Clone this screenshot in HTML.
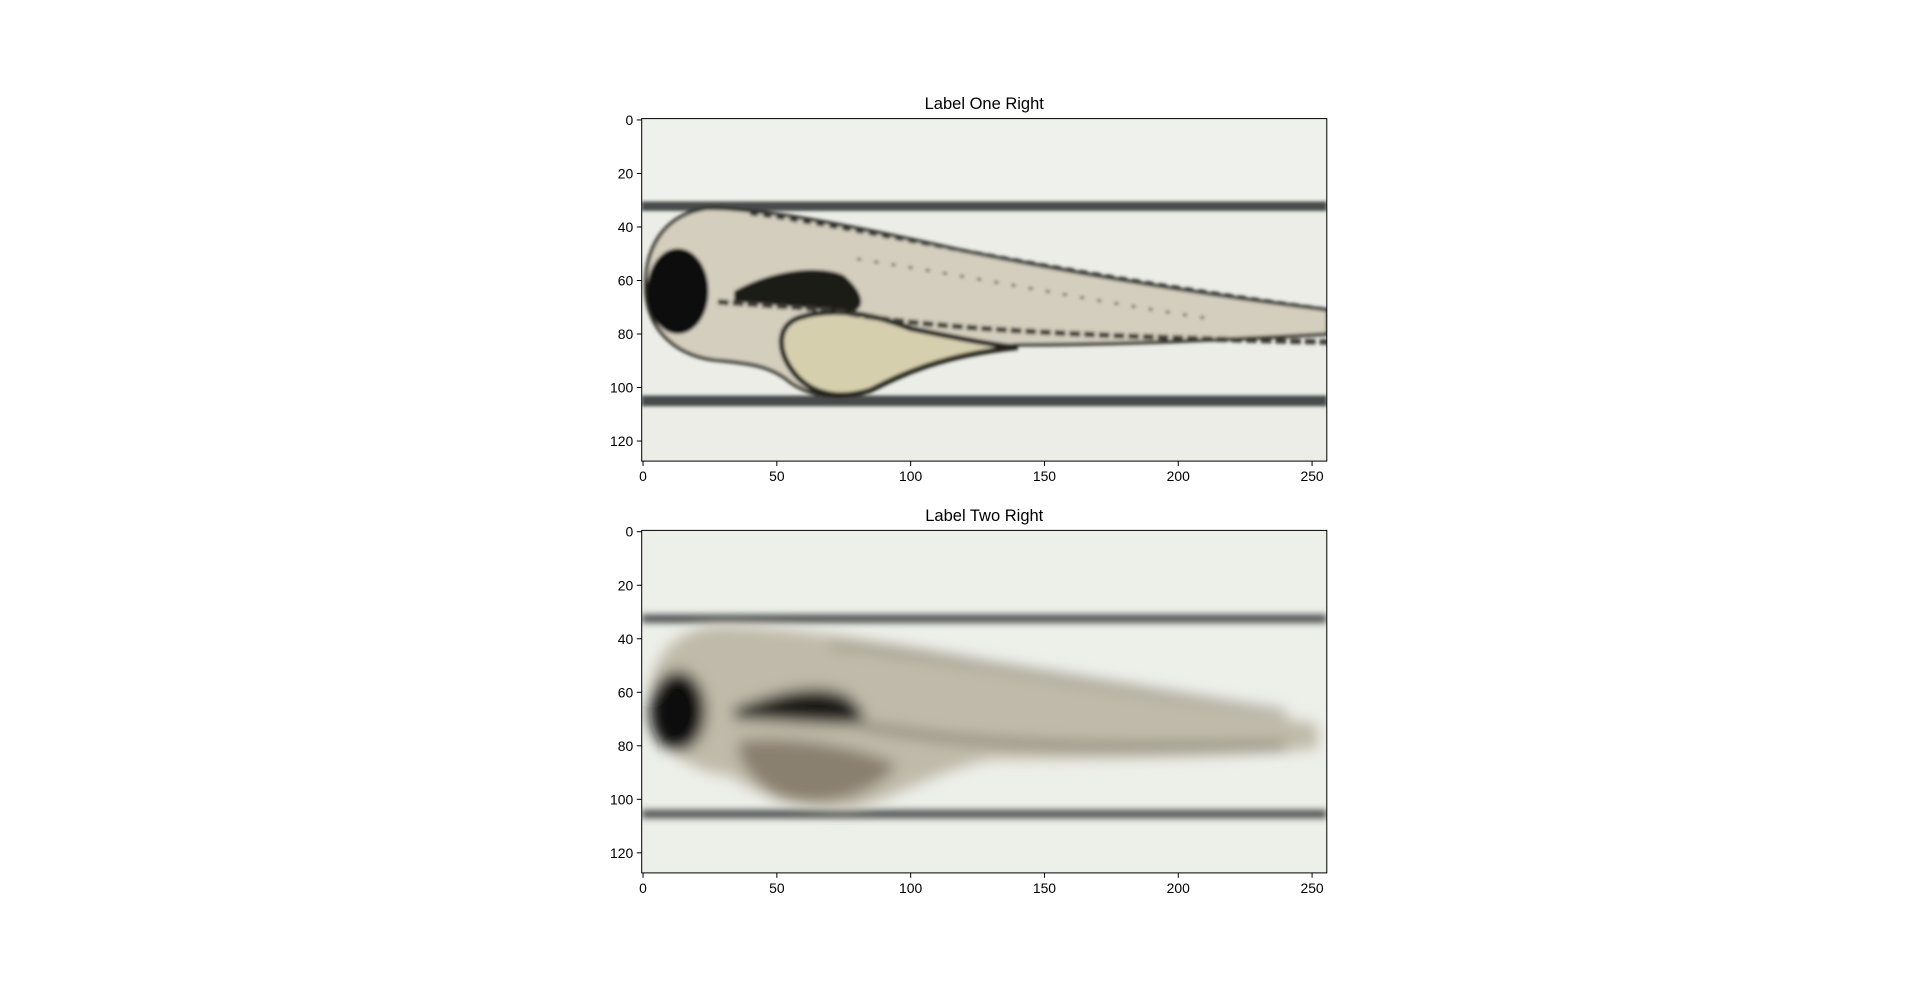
<!DOCTYPE html>
<html><head><meta charset="utf-8"><style>
html,body{margin:0;padding:0;background:#fff;width:1920px;height:981px;overflow:hidden}
svg{position:absolute;left:0;top:0}
text{font-family:"Liberation Sans","DejaVu Sans",sans-serif;fill:#000}
</style></head><body>
<svg id="fig" width="1920" height="981">
<defs>
<filter id="b1" x="-10%" y="-10%" width="120%" height="120%"><feGaussianBlur stdDeviation="0.6"/></filter>
<filter id="b2" x="-10%" y="-10%" width="120%" height="120%"><feGaussianBlur stdDeviation="1.3"/></filter>
<filter id="b3" x="-10%" y="-10%" width="120%" height="120%"><feGaussianBlur stdDeviation="2.6"/></filter>
<clipPath id="c1"><rect x="-0.5" y="-0.5" width="256" height="128"/></clipPath>
</defs>
</svg>
<script>
const xTicks=[0,50,100,150,200,250];
const yTicks=[0,20,40,60,80,100,120];
const titles=["Label One Right","Label Two Right"];
const axTops=[118.6,530.4];
const axLeft=641.7, axW=685.1, axH=342.5;
const NS="http://www.w3.org/2000/svg";
const fig=document.getElementById('fig');
function mk(tag,attrs,parent){const e=document.createElementNS(NS,tag);for(const k in attrs)e.setAttribute(k,attrs[k]);parent.appendChild(e);return e;}
const sx=axW/256, sy=axH/128;
function fishSharp(g){
  g.innerHTML=`
  <rect x="-0.5" y="-0.5" width="256" height="128" fill="#ebede6"/>
  <rect x="-0.5" y="-0.5" width="256" height="30" fill="#eff1ec"/>
  <g filter="url(#b1)">
  <rect x="-0.5" y="30.5" width="256" height="3.5" fill="#4a4c4c"/>
  <rect x="-0.5" y="103" width="256" height="4" fill="#4a4c4c"/>
  <path d="M1,62 C1,45 10,35 24,33 C45,33 80,40 120,49 C170,59 215,66 256,71 L256,80 C220,82 180,84 140,84 C120,86 100,91 90,98 C80,105 65,105 55,98 C48,92 40,91 30,90 C12,89 1,78 1,62 Z" fill="#d3cebd" stroke="#2f2f28" stroke-width="1.3"/>
  <path d="M58,74 C70,70 85,72 100,78 C120,82 130,84 140,85 C110,88 95,96 85,101 C72,105 62,102 56,94 C50,86 50,77 58,74 Z" fill="#d6cfae" stroke="#22221c" stroke-width="2"/>
  <path d="M34,64 C48,56 66,54 75,58 C82,64 84,70 78,72 C66,71 50,69 34,68 Z" fill="#1c1c18"/>
  <path d="M28,68 L70,71 C90,75 120,80 256,83" stroke="#3a3930" stroke-width="2" fill="none" stroke-dasharray="4 1.5"/>
  <path d="M40,35 C80,40 140,55 256,71" stroke="#333" stroke-width="1.4" fill="none" stroke-dasharray="3 2"/>
  <path d="M80,52 C120,58 170,68 210,74" stroke="#555" stroke-width="1" fill="none" stroke-dasharray="1.5 5"/>
  <ellipse cx="13" cy="64" rx="11.5" ry="16" fill="#0e0e0e"/>
  </g>`;
}
function fishBlur(g){
  g.innerHTML=`
  <rect x="-0.5" y="-0.5" width="256" height="128" fill="#edefe9"/>
  <g filter="url(#b2)">
  <rect x="-0.5" y="31" width="256" height="3" fill="#464a48"/>
  <rect x="-0.5" y="104" width="256" height="3" fill="#464a48"/>
  </g>
  <g filter="url(#b3)">
  <path d="M3,62 C3,45 14,36 28,35 C50,35 90,41 130,49 C175,59 220,66 252,72 L252,81 C215,84 170,85 130,85 C110,89 95,99 80,103 C62,105 45,99 32,91 C14,89 3,78 3,62 Z" fill="#bfbaa9"/>
  <path d="M36,78 C55,76 80,80 95,87 C85,100 65,104 50,99 C40,93 34,84 36,78 Z" fill="#8a8070"/>
  <path d="M34,66 C50,60 64,56 76,61 C84,67 84,71 78,72 C60,72 45,70 34,70 Z" fill="#1f1c16"/>
  <path d="M80,72 C110,78 150,82 240,80" stroke="#7a7668" stroke-width="2.5" fill="none"/>
  <path d="M70,42 C110,46 140,52 240,68" stroke="#8a887a" stroke-width="2" fill="none"/>
  <ellipse cx="13" cy="67" rx="10.5" ry="15" fill="#0a0808"/>
  </g>`;
}
titles.forEach((t,i)=>{
  const top=axTops[i];
  const ax=mk('g',{},fig);
  
  
  const img=mk('g',{transform:`translate(${axLeft+0.5*sx},${top+0.5*sy}) scale(${sx},${sy})`,'clip-path':'url(#c1)'},ax);
  
  
  (i===0?fishSharp:fishBlur)(img);
  const fr=mk('rect',{x:axLeft,y:top,width:axW,height:axH,fill:'none',stroke:'#000','stroke-width':1},ax);
  
  
  const tt=mk('text',{x:axLeft+axW/2,y:top-9.5,'text-anchor':'middle','font-size':'16.5px'},ax);
  tt.textContent=t;
  
  
  xTicks.forEach(v=>{
    const x=axLeft+(v+0.5)*sx;
    const l=mk('line',{x1:x,x2:x,y1:top+axH,y2:top+axH+4.9,stroke:'#000','stroke-width':1},ax);
    
    
    const tx=mk('text',{x:x,y:top+axH+20,'text-anchor':'middle','font-size':'13.9px'},ax);
    tx.textContent=v;
    
    
  });
  yTicks.forEach(v=>{
    const y=top+(v+0.5)*sy;
    const l=mk('line',{x1:axLeft-4.9,x2:axLeft,y1:y,y2:y,stroke:'#000','stroke-width':1},ax);
    
    
    const tx=mk('text',{x:axLeft-8.5,y:y+5,'text-anchor':'end','font-size':'13.9px'},ax);
    tx.textContent=v;
    
    
  });
});
</script>
</body></html>
